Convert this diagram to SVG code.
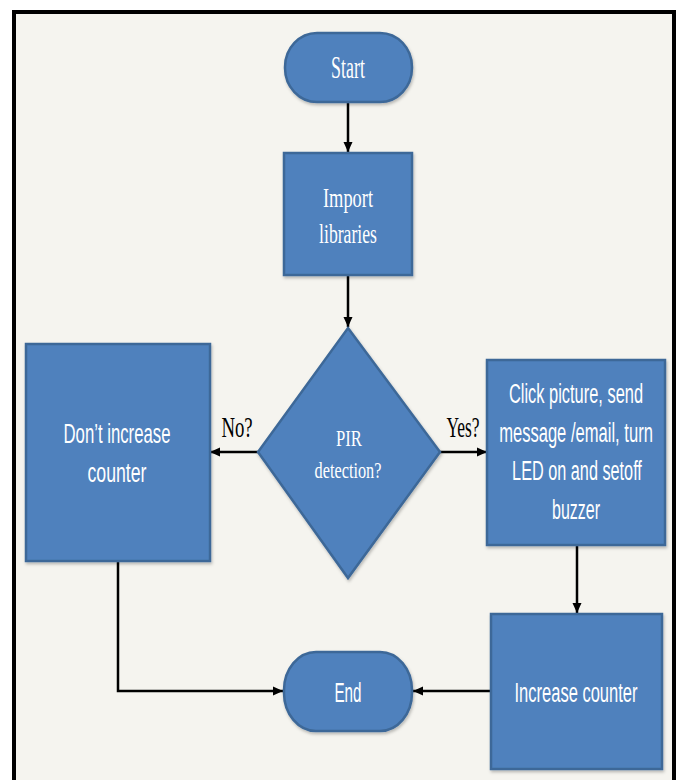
<svg xmlns="http://www.w3.org/2000/svg" width="681" height="780" viewBox="0 0 681 780">
<style>
.shape{fill:#4f81bd;stroke:#3d6898;stroke-width:2.5}
.serif{font-family:"Liberation Serif","Times New Roman",serif;fill:#ffffff;text-anchor:middle}
.sans{font-family:"Liberation Sans",Arial,sans-serif;fill:#ffffff;text-anchor:middle}
.lbl{font-family:"Liberation Serif","Times New Roman",serif;fill:#000000;text-anchor:middle}
.conn{fill:none;stroke:#000000;stroke-width:2.5}
</style>
<defs>
<marker id="ah" markerUnits="userSpaceOnUse" markerWidth="10" markerHeight="10" viewBox="0 0 10 10" refX="10" refY="5" orient="auto">
<path d="M0,0.5 L10,5 L0,9.5 z" fill="#000000"/>
</marker>
<filter id="sh" x="-10%" y="-10%" width="130%" height="130%">
<feDropShadow dx="1" dy="2" stdDeviation="1.5" flood-color="#000000" flood-opacity="0.25"/>
</filter>
</defs>
<rect x="0" y="0" width="681" height="780" fill="#ffffff"/>
<rect x="14" y="12" width="660" height="775" fill="#f5f4ef" stroke="#000000" stroke-width="4"/>

<g id="connectors">
<line class="conn" x1="348" y1="102" x2="348" y2="152" marker-end="url(#ah)"/>
<line class="conn" x1="348" y1="275" x2="348" y2="327" marker-end="url(#ah)"/>
<line class="conn" x1="258" y1="452" x2="210" y2="452" stroke-width="3" marker-end="url(#ah)"/>
<line class="conn" x1="440" y1="452" x2="487" y2="452" stroke-width="3" marker-end="url(#ah)"/>
<line class="conn" x1="577" y1="545" x2="577" y2="613" stroke-width="2" marker-end="url(#ah)"/>
<polyline class="conn" points="118,561 118,691 283,691" stroke-width="3" marker-end="url(#ah)"/>
<line class="conn" x1="491" y1="691" x2="413" y2="691" stroke-width="3" marker-end="url(#ah)"/>
<text class="lbl" transform="translate(237,437) scale(0.65,1)" font-size="30" textLength="48" lengthAdjust="spacingAndGlyphs">No?</text>
<text class="lbl" transform="translate(463,437) scale(0.65,1)" font-size="30" textLength="51" lengthAdjust="spacingAndGlyphs">Yes?</text>
</g>

<g id="start">
<rect class="shape" x="285" y="33" width="127" height="69" rx="32" ry="34" filter="url(#sh)"/>
<text class="serif" transform="translate(348,78) scale(0.65,1)" font-size="31" textLength="52" lengthAdjust="spacingAndGlyphs">Start</text>
</g>

<g id="import">
<rect class="shape" x="284" y="153" width="128" height="122" filter="url(#sh)"/>
<text class="serif" transform="translate(348,207) scale(0.65,1)" font-size="28" textLength="77" lengthAdjust="spacingAndGlyphs">Import</text>
<text class="serif" transform="translate(348,243) scale(0.65,1)" font-size="28" textLength="89" lengthAdjust="spacingAndGlyphs">libraries</text>
</g>

<g id="decision">
<polygon class="shape" points="348,328 440,452 348,578 258,452" filter="url(#sh)"/>
<text class="serif" transform="translate(349,446) scale(0.65,1)" font-size="24" textLength="40" lengthAdjust="spacingAndGlyphs">PIR</text>
<text class="serif" transform="translate(348,478) scale(0.65,1)" font-size="24" textLength="103" lengthAdjust="spacingAndGlyphs">detection?</text>
</g>

<g id="no-increase">
<rect class="shape" x="26" y="344" width="184" height="217" filter="url(#sh)"/>
<text class="sans" transform="translate(117,443) scale(0.615,1)" font-size="27" textLength="174" lengthAdjust="spacingAndGlyphs">Don’t increase</text>
<text class="sans" transform="translate(117,482) scale(0.615,1)" font-size="27" textLength="96" lengthAdjust="spacingAndGlyphs">counter</text>
</g>

<g id="action">
<rect class="shape" x="487" y="360" width="178" height="185" filter="url(#sh)"/>
<text class="sans" transform="translate(576,403) scale(0.615,1)" font-size="27" textLength="218" lengthAdjust="spacingAndGlyphs">Click picture, send</text>
<text class="sans" transform="translate(576,442) scale(0.615,1)" font-size="27" textLength="250" lengthAdjust="spacingAndGlyphs">message /email, turn</text>
<text class="sans" transform="translate(577,480) scale(0.615,1)" font-size="27" textLength="211" lengthAdjust="spacingAndGlyphs">LED on and setoff</text>
<text class="sans" transform="translate(576,519) scale(0.615,1)" font-size="27" textLength="78" lengthAdjust="spacingAndGlyphs">buzzer</text>
</g>

<g id="increase">
<rect class="shape" x="491" y="614" width="171" height="155" filter="url(#sh)"/>
<text class="sans" transform="translate(576,702) scale(0.615,1)" font-size="27" textLength="200" lengthAdjust="spacingAndGlyphs">Increase counter</text>
</g>

<g id="end">
<rect class="shape" x="284" y="652" width="128" height="79" rx="32" ry="38" filter="url(#sh)"/>
<text class="sans" transform="translate(348,702) scale(0.615,1)" font-size="27" textLength="44" lengthAdjust="spacingAndGlyphs">End</text>
</g>
</svg>
